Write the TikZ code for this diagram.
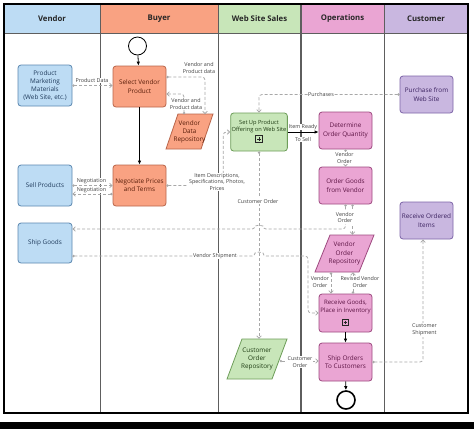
\documentclass[tikz,border=0pt]{standalone}
\usepackage{fontspec}
\setmainfont{Open Sans}
\usetikzlibrary{arrows.meta}
\definecolor{vfill}{HTML}{BDDCF4}
\definecolor{vdraw}{HTML}{5B87B0}
\definecolor{vtext}{HTML}{1F3B5C}
\definecolor{bfill}{HTML}{F9A282}
\definecolor{bdraw}{HTML}{B9664B}
\definecolor{btext}{HTML}{5A1E0A}
\definecolor{wfill}{HTML}{C8E6B9}
\definecolor{wdraw}{HTML}{6E9E5A}
\definecolor{wtext}{HTML}{1F3D14}
\definecolor{ofill}{HTML}{EAA5D3}
\definecolor{odraw}{HTML}{9E4A80}
\definecolor{otext}{HTML}{5E1545}
\definecolor{cfill}{HTML}{C9B7E0}
\definecolor{cdraw}{HTML}{7D65A8}
\definecolor{ctext}{HTML}{3B2260}
\definecolor{msgc}{HTML}{A8A8A8}
\definecolor{lanec}{HTML}{5E5E5E}
\definecolor{lblc}{HTML}{404040}
\newcommand\pgram[7]{\filldraw[fill=#6,draw=#7,line width=0.8bp] ({#1+#5},#2) -- (#3,#2) -- ({#3-#5},#4) -- (#1,#4) -- cycle;}
\tikzset{
 box/.style={rounded corners=3bp, line width=0.8bp, align=center, inner sep=1bp, font=\fontsize{6.4}{8.3}\selectfont},
 vbox/.style={box, draw=vdraw, fill=vfill, text=vtext, minimum width=54bp, minimum height=41bp},
 bbox/.style={box, draw=bdraw, fill=bfill, text=btext, minimum width=53bp, minimum height=41bp},
 wbox/.style={box, draw=wdraw, fill=wfill, text=wtext, minimum width=56bp, minimum height=38bp},
 obox/.style={box, draw=odraw, fill=ofill, text=otext, minimum width=53bp, minimum height=37bp},
 cbox/.style={box, draw=cdraw, fill=cfill, text=ctext, minimum width=53bp, minimum height=37bp},
 ptext/.style={align=center, inner sep=0pt, font=\fontsize{6.4}{8.3}\selectfont},
 hdr/.style={font=\fontsize{7.8}{9}\selectfont\bfseries, text=black!85},
 lane/.style={draw=lanec, line width=1bp},
 flow/.style={draw=black, line width=0.8bp, -{Latex[length=4bp,width=3.5bp]}},
 msg/.style={draw=msgc, line width=0.75bp, dash pattern=on 3bp off 2bp, rounded corners=3bp, {Circle[length=2.4bp,width=2.4bp,fill=white]}-{Straight Barb[length=2.5bp,width=4.5bp]}},
 lbl/.style={font=\fontsize{5.4}{6.8}\selectfont, text=lblc, fill=white, inner sep=0.6bp, align=center},
 startev/.style={circle, draw=black, fill=white, line width=0.8bp, minimum size=18bp, inner sep=0pt},
 endev/.style={circle, draw=black, fill=white, line width=1.6bp, minimum size=18bp, inner sep=0pt},
 submark/.style={draw=black!85, line width=0.6bp, minimum size=6.5bp, inner sep=0pt,
   path picture={\draw[line width=0.7bp, black!85] ([yshift=-1.3bp]path picture bounding box.north) -- ([yshift=1.3bp]path picture bounding box.south) ([xshift=1.3bp]path picture bounding box.west) -- ([xshift=-1.3bp]path picture bounding box.east);}}
}
\begin{document}
\begin{tikzpicture}[x=1bp,y=-1bp]
\useasboundingbox (0,0) rectangle (474,429);
\fill[white] (0,0) rectangle (474,429);
% headers
\fill[vfill] (4,4) rectangle (100,33);
\fill[bfill] (100,4) rectangle (218,33);
\fill[wfill] (218,4) rectangle (301,33);
\fill[ofill] (301,4) rectangle (384,33);
\fill[cfill] (384,4) rectangle (468,33);
\node[hdr] (hv) at (52,18.5) {Vendor};
\node[hdr] (hb) at (159,18.5) {Buyer};
\node[hdr] (hw) at (259.5,18.5) {Web Site Sales};
\node[hdr] (ho) at (342.5,18.5) {Operations};
\node[hdr] (hc) at (426,18.5) {Customer};
% lanes
\draw[lane] (100,4) -- (100,413);
\draw[lane] (218,4) -- (218,413);
\draw[lane,line width=1.4bp] (301,4) -- (301,413);
\draw[lane] (384,4) -- (384,413);
\draw[lane] (4,33) -- (468,33);
\fill[black] (0,422) rectangle (474,429);
% parallelograms
\pgram{166}{114}{213}{149}{12}{bfill}{bdraw}
\pgram{315}{235}{374}{272}{15}{ofill}{odraw}
\pgram{227}{339}{287}{379}{15}{wfill}{wdraw}
% nodes
\node[startev] (start) at (137.5,46) {};
\node[vbox] (pmm) at (45,85.5) {Product\\Marketing\\Materials\\(Web Site, etc.)};
\node[vbox] (sell) at (45,185.5) {Sell Products};
\node[vbox, minimum height=40bp] (ship) at (45,243) {Ship Goods};
\node[bbox] (svp) at (139.5,86.5) {Select Vendor\\Product};
\node[bbox] (npt) at (139.5,185.5) {Negotiate Prices\\and Terms};
\node[ptext, text=btext, minimum width=47bp, minimum height=35bp] (vdr) at (189.5,132) {Vendor\\Data\\Repository};
\node[wbox, font=\fontsize{5.7}{7}\selectfont] (setup) at (259,132) {Set Up Product\\Offering on Web Site\\[6bp]\mbox{}};
\node[submark, fill=wfill] (m1) at ([yshift=-7bp]setup.center) {};
\node[obox] (doq) at (345.5,130.5) {Determine\\Order Quantity};
\node[cbox] (pws) at (426.5,94.5) {Purchase from\\Web Site};
\node[obox] (ogv) at (345.5,185.5) {Order Goods\\from Vendor};
\node[cbox] (roi) at (426.5,220.5) {Receive Ordered\\Items};
\node[ptext, text=otext, minimum width=59bp, minimum height=37bp] (vor) at (344.5,253.5) {Vendor\\Order\\Repository};
\node[obox, minimum height=38bp, font=\fontsize{6.1}{8}\selectfont] (rgp) at (345.5,313) {Receive Goods,\\Place in Inventory\\[6bp]\mbox{}};
\node[submark, fill=ofill] (m2) at ([yshift=-9.5bp]rgp.center) {};
\node[obox, minimum height=38bp] (sotc) at (345.5,362) {Ship Orders\\To Customers};
\node[endev] (end) at (346,400) {};
\node[ptext, text=wtext, minimum width=60bp, minimum height=40bp] (cor) at (257,359) {Customer\\Order\\Repository};
% connectors
\draw[flow] (start) -- (svp);
\draw[flow] (svp) -- (npt);
\draw[msg] (pmm.east) -- (pmm.east -| svp.west);
\draw[msg] ([yshift=9.5bp]svp.east) -| ([xshift=15.5bp]vdr.north);
\draw[msg] ([xshift=-5.5bp]vdr.north) |- ([yshift=-7.5bp]svp.east);
\draw[msg] (sell.east) -- (sell.east -| npt.west);
\draw[msg] ([yshift=-8.5bp]npt.west) -- ([yshift=-8.5bp]npt.west -| sell.east);
\draw[msg] (npt.east) -| ([xshift=-7bp]setup.west) -- (setup.west);
\draw[flow] (setup.east) -- (setup.east -| doq.west);
\draw[msg] (pws.west) -| (setup.north);
\draw[msg] (doq) -- (ogv);
\coordinate (j1) at (259,229);
\coordinate (j2) at (259,256);
\coordinate (k1) at (308,256);
\draw[msg] (ogv.south) |- ([xshift=4bp]j1) arc[start angle=0,end angle=180,radius=4bp] -- ([yshift=14bp]ship.east);
\draw[msg] ([xshift=7bp]ogv.south) -- ([xshift=7bp]ogv.south |- vor.north);
\draw[msg] ([yshift=-13bp]ship.east) -- ([xshift=-4bp]j2) arc[start angle=180,end angle=0,radius=4bp] -- (k1) |- (rgp.west);
\draw[msg] ([xshift=-13.5bp]vor.south) -- ([xshift=-13.5bp]vor.south |- rgp.north);
\draw[msg] ([xshift=7.5bp]rgp.north) -- ([xshift=7.5bp]rgp.north |- vor.south);
\draw[flow] (rgp) -- (sotc);
\draw[flow] (sotc) -- (end);
\draw[msg] ([xshift=-7.5bp,yshift=-2bp]cor.east) -- ([yshift=-2bp]cor.east -| sotc.west);
\draw[msg] (setup.south) -- (setup.south |- cor.north);
\draw[msg] (sotc.east) -| ([xshift=-3.5bp]roi.south);
% labels
\node[lbl] (l1) at (92,80.5) {Product Data};
\node[lbl] (l2) at (199,68) {Vendor and\\Product data};
\node[lbl] (l3) at (186,104) {Vendor and\\Product data};
\node[lbl] (l4) at (91.5,181) {Negotiation};
\node[lbl] (l5) at (91.5,190) {Negotiation};
\node[lbl] (l6) at (217,182) {Item Descriptions,\\Specifications, Photos,\\Prices};
\node[lbl] (l7) at (303,127) {Item Ready};
\node[lbl] (l8) at (303,139.5) {To Sell};
\node[lbl] (l9) at (321,94.5) {Purchases};
\node[lbl] (l10) at (344.5,158) {Vendor\\Order};
\node[lbl] (l11) at (258,201) {Customer Order};
\node[lbl] (l12) at (345,217.5) {Vendor\\Order};
\node[lbl] (l13) at (215,256) {Vendor Shipment};
\node[lbl] (l14) at (320,282) {Vendor\\Order};
\node[lbl] (l15) at (360,282) {Revised Vendor\\Order};
\node[lbl] (l16) at (300,362) {Customer\\Order};
\node[lbl] (l17) at (424.5,330) {Customer\\Shipment};
% frame
\draw[line width=1.6bp] (4,4) rectangle (468,413);
\end{tikzpicture}
\end{document}
